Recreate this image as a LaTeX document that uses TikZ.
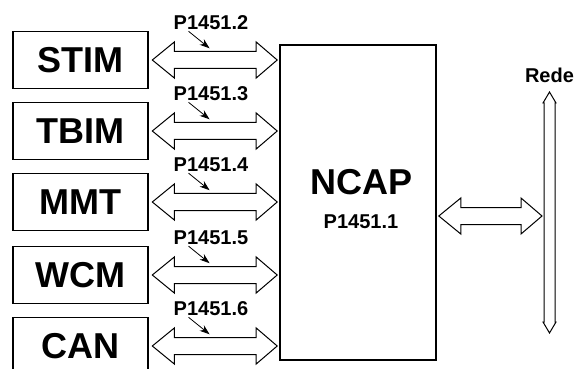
\documentclass[tikz,border=0pt]{standalone}
\usepackage{fontspec}
\setmainfont{Liberation Sans}
\usetikzlibrary{arrows.meta,positioning,calc}

% hollow double-headed arrow between two points of equal height
\newcommand{\fatarrow}[2]{%
  \draw[hollow] (#1) -- ++(22pt,18pt) -- ++(0pt,-9.5pt) -- ($(#2)+(-21pt,8.5pt)$)
    -- ++(0pt,9.5pt) -- (#2) -- ++(-21pt,-18pt) -- ++(0pt,9.5pt)
    -- ($(#1)+(22pt,-8.5pt)$) -- ++(0pt,-9.5pt) -- cycle;}

\begin{document}
\begin{tikzpicture}[x=1pt,y=-1pt,
    box/.style={draw, line width=1.6pt, minimum width=135pt, minimum height=57pt, inner sep=0pt, font=\fontsize{36}{40}\selectfont\bfseries},
    core/.style={draw, line width=1.6pt, minimum width=156pt, minimum height=315pt, inner sep=0pt},
    lbl/.style={inner sep=0pt, font=\fontsize{20}{22}\selectfont\bfseries},
    big/.style={inner sep=0pt, font=\fontsize{36}{40}\selectfont\bfseries},
    hollow/.style={draw, line width=1pt, fill=white, line join=miter},
    pointer/.style={-{Stealth[length=10pt,width=7pt]}, line width=0.8pt}
]
    \useasboundingbox (0,0) rectangle (574,369);

    % modules
    \node[box] (stim) at (80.5,60)  {STIM};
    \node[box] (tbim) at (80.5,131) {TBIM};
    \node[box] (mmt)  at (80.5,202) {MMT};
    \node[box] (wcm)  at (80.5,275) {WCM};
    \node[box] (can)  at (80.5,346) {CAN};

    % processor
    \node[core] (ncap) at (358,202.5) {};
    \node[big] (ncapname) at (362,182) {NCAP};
    \node[lbl] (ncapstd)  at (361,222) {P1451.1};

    % interfaces
    \coordinate (a1) at ($(stim.east)+(3.5pt,0pt)$);
    \coordinate (b1) at ($(ncap.west |- stim.east)+(-2pt,0pt)$);
    \coordinate (a2) at ($(tbim.east)+(3.5pt,0pt)$);
    \coordinate (b2) at ($(ncap.west |- tbim.east)+(-2pt,0pt)$);
    \coordinate (a3) at ($(mmt.east)+(3.5pt,0pt)$);
    \coordinate (b3) at ($(ncap.west |- mmt.east)+(-2pt,0pt)$);
    \coordinate (a4) at ($(wcm.east)+(3.5pt,0pt)$);
    \coordinate (b4) at ($(ncap.west |- wcm.east)+(-2pt,0pt)$);
    \coordinate (a5) at ($(can.east)+(3.5pt,0pt)$);
    \coordinate (b5) at ($(ncap.west |- can.east)+(-2pt,0pt)$);
    \fatarrow{a1}{b1}
    \fatarrow{a2}{b2}
    \fatarrow{a3}{b3}
    \fatarrow{a4}{b4}
    \fatarrow{a5}{b5}

    \node[lbl] (p2) at (211,23)  {P1451.2};
    \node[lbl] (p3) at (211,94)  {P1451.3};
    \node[lbl] (p4) at (211,165) {P1451.4};
    \node[lbl] (p5) at (211,238) {P1451.5};
    \node[lbl] (p6) at (211,309) {P1451.6};
    \draw[pointer] ([shift={(15pt,-1pt)}]p2.south west) -- ++(21pt,-17pt);
    \draw[pointer] ([shift={(15pt,-1pt)}]p3.south west) -- ++(21pt,-17pt);
    \draw[pointer] ([shift={(15pt,-1pt)}]p4.south west) -- ++(21pt,-17pt);
    \draw[pointer] ([shift={(15pt,-1pt)}]p5.south west) -- ++(21pt,-17pt);
    \draw[pointer] ([shift={(15pt,-1pt)}]p6.south west) -- ++(21pt,-17pt);

    % network bus
    \coordinate (rtop) at (549.5,92);
    \coordinate (rbot) at (549.5,333);
    \draw[hollow] (rtop) -- ++(6.5pt,-11pt) -- ++(-1pt,0pt) -- ($(rbot)+(5.5pt,11pt)$)
        -- ++(1pt,0pt) -- (rbot) -- ++(-6.5pt,11pt) -- ++(1pt,0pt)
        -- ($(rtop)+(-5.5pt,-11pt)$) -- ++(-1pt,0pt) -- cycle;
    \node[lbl, above=9pt of rtop] (rede) {Rede};

    \coordinate (n1) at ($(ncap.east)+(2pt,-13.5pt)$);
    \coordinate (n2) at ($(n1 -| rtop)+(-7.5pt,0pt)$);
    \fatarrow{n1}{n2}
\end{tikzpicture}
\end{document}
